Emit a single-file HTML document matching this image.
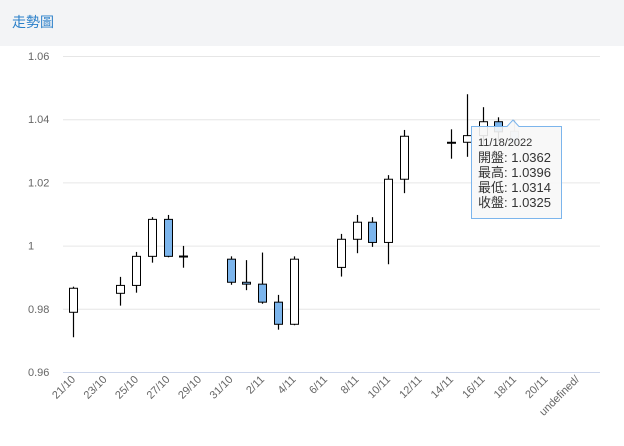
<!DOCTYPE html>
<html><head><meta charset="utf-8"><style>
body{margin:0;width:624px;height:446px;background:#fff;font-family:"Liberation Sans","Noto Sans CJK TC",sans-serif;overflow:hidden}
#hdr{position:absolute;left:0;top:0;width:624px;height:46px;background:#f3f4f6}
#ttl{position:absolute;left:12px;top:12px;font-size:14px;color:#2a7fc9}
</style></head><body>
<div id="hdr"><div id="ttl">走勢圖</div></div>
<svg id="c" width="624" height="446" style="position:absolute;left:0;top:0"></svg>
<script>
const cats=["21/10","22/10","23/10","24/10","25/10","26/10","27/10","28/10","29/10","30/10","31/10","1/11","2/11","3/11","4/11","5/11","6/11","7/11","8/11","9/11","10/11","11/11","12/11","13/11","14/11","15/11","16/11","17/11","18/11","19/11","20/11","21/11","undefined/"];
const opens =[0.9789,null,null,0.9849,0.9874,0.9966,1.0083,0.9967,null,null,0.9957,0.9884,0.9878,0.9821,0.9751,null,null,0.9931,1.0020,1.0074,1.0010,1.0210,null,null,1.0325,1.0327,1.0348,1.0392,1.0362];
const highs =[0.9870,null,null,0.9901,0.9980,1.0090,1.0097,0.9999,null,null,0.9966,0.9954,0.9978,0.9844,0.9966,null,null,1.0037,1.0097,1.0090,1.0223,1.0366,null,null,1.0368,1.0479,1.0438,1.0406,1.0396];
const lows  =[0.9710,null,null,0.9810,0.9851,0.9946,0.9963,0.9930,null,null,0.9876,0.9859,0.9816,0.9734,0.9748,null,null,0.9902,0.9976,0.9996,0.9941,1.0166,null,null,1.0275,1.0281,1.0320,1.0330,1.0314];
const closes=[0.9865,null,null,0.9874,0.9966,1.0083,0.9966,0.9965,null,null,0.9884,0.9878,0.9821,0.9751,0.9957,null,null,1.0020,1.0074,1.0010,1.0210,1.0346,null,null,1.0327,1.0348,1.0392,1.0360,1.0325];
const yTicks=[0.96,0.98,1,1.02,1.04,1.06];
const yLabels=["0.96","0.98","1","1.02","1.04","1.06"];
const NS="http://www.w3.org/2000/svg",svg=document.getElementById('c');
const L=63,R=600,T=56,B=372;
const y=v=>B-(v-0.96)/0.1*(B-T);
const x=i=>73+i*15.75;
function mk(t,a,p){const e=document.createElementNS(NS,t);for(const k in a)e.setAttribute(k,a[k]);(p||svg).appendChild(e);return e;}
yTicks.forEach((v,i)=>{
 const g=mk('line',{x1:L,x2:R,y1:y(v)+.5,y2:y(v)+.5,stroke:i==0?'#ccd6eb':'#e6e6e6','stroke-width':1});
 
 
 const t=mk('text',{x:28,y:y(v)+4,'font-size':11,fill:'#666'});t.textContent=yLabels[i];
 
 
});
cats.forEach((c,i)=>{
 if(i%2)return;
 const t=mk('text',{x:0,y:0,'font-size':11,fill:'#666','text-anchor':'end',transform:`translate(${x(i)+3},${B+8}) rotate(-45)`});
 t.textContent=c;
 
 
});
opens.forEach((o,i)=>{
 if(o==null)return;
 const g=mk('g',{});
 
 
 const cx=Math.round(x(i))+.5,c=closes[i],up=c>=o;
 const top=y(Math.max(o,c)),bot=y(Math.min(o,c));
 const op=i==28?0.35:1;
 mk('line',{x1:cx,x2:cx,y1:y(highs[i]),y2:top,stroke:'#000','stroke-width':1.2,opacity:op},g);
 mk('line',{x1:cx,x2:cx,y1:bot,y2:y(lows[i]),stroke:'#000','stroke-width':1.2,opacity:op},g);
 mk('rect',{x:cx-4,y:top,width:8,height:Math.max(bot-top,1),fill:up?'#fff':'#7cb5ec',stroke:'#000','stroke-width':1,opacity:op},g);
});
const tg=mk('g',{});


mk('path',{d:'M471.5,126.5 H507 L513,120 L519,126.5 H561.5 V218.5 H471.5 Z',fill:'rgba(247,247,247,0.9)',stroke:'#7cb5ec','stroke-width':1},tg);
const lines=["11/18/2022","開盤: 1.0362","最高: 1.0396","最低: 1.0314","收盤: 1.0325"];
lines.forEach((s,k)=>{const t=mk('text',{x:478,y:k==0?146:147+k*15,'font-size':k==0?11:13,fill:'#333'},tg);t.textContent=s;});
</script>
</body></html>
